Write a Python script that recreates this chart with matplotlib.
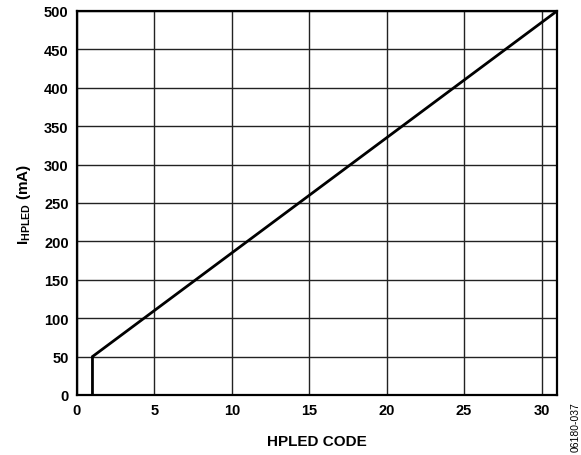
import matplotlib
matplotlib.use("Agg")
import matplotlib.pyplot as plt

codes = [1, 1, 31]
current_ma = [0, 50, 500]
xticks = [0, 5, 10, 15, 20, 25, 30]
yticks = [0, 50, 100, 150, 200, 250, 300, 350, 400, 450, 500]

plt.rcParams['font.family'] = ['Liberation Sans', 'DejaVu Sans']
plt.rcParams['mathtext.fontset'] = 'custom'
plt.rcParams['mathtext.rm'] = 'Liberation Sans:bold'
plt.rcParams['mathtext.bf'] = 'Liberation Sans:bold'
plt.rcParams['mathtext.it'] = 'Liberation Sans:bold'

fig = plt.figure(figsize=(5.81, 4.56), dpi=100)
ax = fig.add_axes([0.1325, 0.1316, 0.8262, 0.8421])
ax.plot(codes, current_ma, color='black', linewidth=2.0, solid_joinstyle='miter')
ax.set_xlim(0, 31)
ax.set_ylim(0, 500)
ax.set_xticks(xticks)
ax.set_yticks(yticks)
ax.grid(True, color='#222222', linewidth=1.0)
ax.set_axisbelow(True)
for s in ax.spines.values():
    s.set_linewidth(1.6)
    s.set_color('black')
ax.tick_params(length=0, labelsize=10.5, pad=6)
for lab in ax.get_xticklabels() + ax.get_yticklabels():
    lab.set_fontweight('bold')
ax.set_xlabel('HPLED CODE', fontsize=11, fontweight='bold', labelpad=12)
ax.set_ylabel(r'$\mathbf{I_{HPLED}}$ (mA)', fontsize=11, fontweight='bold', labelpad=8)
fig.text(0.9914, 0.064, '06180-037', rotation=90, fontsize=7.5, ha='center', va='center')
fig.savefig('out.png', dpi=100)
